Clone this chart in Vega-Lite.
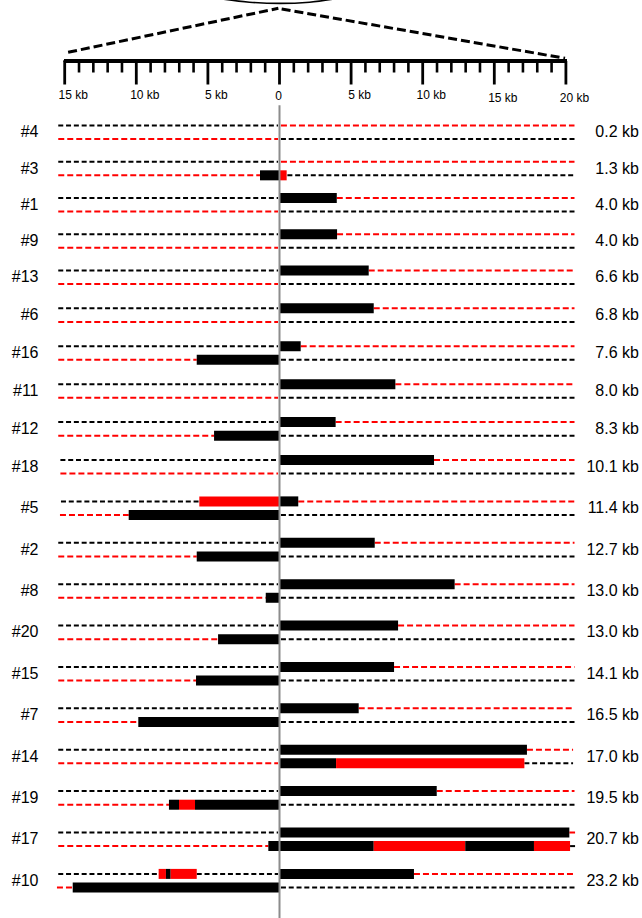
{
  "$schema": "https://vega.github.io/schema/vega-lite/v6.json",
  "width": 642,
  "height": 918,
  "autosize": "none",
  "padding": 0,
  "background": "white",
  "config": {"view": {"stroke": null}, "text": {"font": "Liberation Sans"}},
  "datasets": {
    "ticks": [
      {"kb": -15, "tick": "major", "label": "15 kb"}, {"kb": -14, "tick": "minor"}, {"kb": -13, "tick": "minor"}, {"kb": -12, "tick": "minor"}, {"kb": -11, "tick": "minor"},
      {"kb": -10, "tick": "major", "label": "10 kb"}, {"kb": -9, "tick": "minor"}, {"kb": -8, "tick": "minor"}, {"kb": -7, "tick": "minor"}, {"kb": -6, "tick": "minor"},
      {"kb": -5, "tick": "major", "label": "5 kb"}, {"kb": -4, "tick": "minor"}, {"kb": -3, "tick": "minor"}, {"kb": -2, "tick": "minor"}, {"kb": -1, "tick": "minor"},
      {"kb": 0, "tick": "major", "label": "0"}, {"kb": 1, "tick": "minor"}, {"kb": 2, "tick": "minor"}, {"kb": 3, "tick": "minor"}, {"kb": 4, "tick": "minor"},
      {"kb": 5, "tick": "major", "label": "5 kb"}, {"kb": 6, "tick": "minor"}, {"kb": 7, "tick": "minor"}, {"kb": 8, "tick": "minor"}, {"kb": 9, "tick": "minor"},
      {"kb": 10, "tick": "major", "label": "10 kb"}, {"kb": 11, "tick": "minor"}, {"kb": 12, "tick": "minor"}, {"kb": 13, "tick": "minor"}, {"kb": 14, "tick": "minor"},
      {"kb": 15, "tick": "major", "label": "15 kb"}, {"kb": 16, "tick": "minor"}, {"kb": 17, "tick": "minor"}, {"kb": 18, "tick": "minor"}, {"kb": 19, "tick": "minor"},
      {"kb": 20, "tick": "major", "label": "20 kb"}
    ],
    "zoomlines": [
      {"side": "left", "kb": -14.76, "level": 52.3},
      {"side": "left", "kb": -0.08, "level": 8.3},
      {"side": "right", "kb": 0.15, "level": 9},
      {"side": "right", "kb": 19.94, "level": 58.3}
    ],
    "arc": [
      {"kb": -4.0, "level": -1},
      {"kb": -2.1, "level": 2.2},
      {"kb": 0.03, "level": 3.4},
      {"kb": 2.1, "level": 2.2},
      {"kb": 3.8, "level": -1}
    ],
    "clones": [
      {"row": 0, "clone": "#4", "length": "0.2 kb"},
      {"row": 1, "clone": "#3", "length": "1.3 kb"},
      {"row": 2, "clone": "#1", "length": "4.0 kb"},
      {"row": 3, "clone": "#9", "length": "4.0 kb"},
      {"row": 4, "clone": "#13", "length": "6.6 kb"},
      {"row": 5, "clone": "#6", "length": "6.8 kb"},
      {"row": 6, "clone": "#16", "length": "7.6 kb"},
      {"row": 7, "clone": "#11", "length": "8.0 kb"},
      {"row": 8, "clone": "#12", "length": "8.3 kb"},
      {"row": 9, "clone": "#18", "length": "10.1 kb"},
      {"row": 10, "clone": "#5", "length": "11.4 kb"},
      {"row": 11, "clone": "#2", "length": "12.7 kb"},
      {"row": 12, "clone": "#8", "length": "13.0 kb"},
      {"row": 13, "clone": "#20", "length": "13.0 kb"},
      {"row": 14, "clone": "#15", "length": "14.1 kb"},
      {"row": 15, "clone": "#7", "length": "16.5 kb"},
      {"row": 16, "clone": "#14", "length": "17.0 kb"},
      {"row": 17, "clone": "#19", "length": "19.5 kb"},
      {"row": 18, "clone": "#17", "length": "20.7 kb"},
      {"row": 19, "clone": "#10", "length": "23.2 kb"}
    ],
    "segments": [
      {"row": 0, "strand": "top", "start": -15.45, "end": -0.1, "homolog": "A", "type": "flank"},
      {"row": 0, "strand": "top", "start": 0.1, "end": 20.6, "homolog": "B", "type": "flank"},
      {"row": 0, "strand": "bottom", "start": -15.45, "end": -0.1, "homolog": "B", "type": "flank"},
      {"row": 0, "strand": "bottom", "start": 0.1, "end": 20.6, "homolog": "A", "type": "flank"},

      {"row": 1, "strand": "top", "start": -15.45, "end": -0.1, "homolog": "A", "type": "flank"},
      {"row": 1, "strand": "top", "start": 0.1, "end": 20.6, "homolog": "B", "type": "flank"},
      {"row": 1, "strand": "bottom", "start": -15.45, "end": -1.36, "homolog": "B", "type": "flank"},
      {"row": 1, "strand": "bottom", "start": -1.36, "end": 0, "homolog": "A", "type": "block"},
      {"row": 1, "strand": "bottom", "start": 0, "end": 0.5, "homolog": "B", "type": "block"},
      {"row": 1, "strand": "bottom", "start": 0.55, "end": 20.6, "homolog": "A", "type": "flank"},

      {"row": 2, "strand": "top", "start": -15.45, "end": -0.1, "homolog": "A", "type": "flank"},
      {"row": 2, "strand": "top", "start": 0, "end": 4.0, "homolog": "A", "type": "block"},
      {"row": 2, "strand": "top", "start": 4.0, "end": 20.6, "homolog": "B", "type": "flank"},
      {"row": 2, "strand": "bottom", "start": -15.45, "end": -0.1, "homolog": "B", "type": "flank"},
      {"row": 2, "strand": "bottom", "start": 0.1, "end": 20.6, "homolog": "A", "type": "flank"},

      {"row": 3, "strand": "top", "start": -15.45, "end": -0.1, "homolog": "A", "type": "flank"},
      {"row": 3, "strand": "top", "start": 0, "end": 4.02, "homolog": "A", "type": "block"},
      {"row": 3, "strand": "top", "start": 4.02, "end": 20.6, "homolog": "B", "type": "flank"},
      {"row": 3, "strand": "bottom", "start": -15.45, "end": -0.1, "homolog": "B", "type": "flank"},
      {"row": 3, "strand": "bottom", "start": 0.1, "end": 20.6, "homolog": "A", "type": "flank"},

      {"row": 4, "strand": "top", "start": -15.45, "end": -0.1, "homolog": "A", "type": "flank"},
      {"row": 4, "strand": "top", "start": 0, "end": 6.23, "homolog": "A", "type": "block"},
      {"row": 4, "strand": "top", "start": 6.23, "end": 20.6, "homolog": "B", "type": "flank"},
      {"row": 4, "strand": "bottom", "start": -15.45, "end": -0.1, "homolog": "B", "type": "flank"},
      {"row": 4, "strand": "bottom", "start": 0.1, "end": 20.6, "homolog": "A", "type": "flank"},

      {"row": 5, "strand": "top", "start": -15.45, "end": -0.1, "homolog": "A", "type": "flank"},
      {"row": 5, "strand": "top", "start": 0, "end": 6.58, "homolog": "A", "type": "block"},
      {"row": 5, "strand": "top", "start": 6.58, "end": 20.6, "homolog": "B", "type": "flank"},
      {"row": 5, "strand": "bottom", "start": -15.45, "end": -0.1, "homolog": "B", "type": "flank"},
      {"row": 5, "strand": "bottom", "start": 0.1, "end": 20.6, "homolog": "A", "type": "flank"},

      {"row": 6, "strand": "top", "start": -15.45, "end": -0.1, "homolog": "A", "type": "flank"},
      {"row": 6, "strand": "top", "start": 0, "end": 1.48, "homolog": "A", "type": "block"},
      {"row": 6, "strand": "top", "start": 1.48, "end": 20.6, "homolog": "B", "type": "flank"},
      {"row": 6, "strand": "bottom", "start": -15.45, "end": -5.78, "homolog": "B", "type": "flank"},
      {"row": 6, "strand": "bottom", "start": -5.78, "end": 0, "homolog": "A", "type": "block"},
      {"row": 6, "strand": "bottom", "start": 0.1, "end": 20.6, "homolog": "A", "type": "flank"},

      {"row": 7, "strand": "top", "start": -15.45, "end": -0.1, "homolog": "A", "type": "flank"},
      {"row": 7, "strand": "top", "start": 0, "end": 8.09, "homolog": "A", "type": "block"},
      {"row": 7, "strand": "top", "start": 8.09, "end": 20.6, "homolog": "B", "type": "flank"},
      {"row": 7, "strand": "bottom", "start": -15.45, "end": -0.1, "homolog": "B", "type": "flank"},
      {"row": 7, "strand": "bottom", "start": 0.1, "end": 20.6, "homolog": "A", "type": "flank"},

      {"row": 8, "strand": "top", "start": -15.45, "end": -0.1, "homolog": "A", "type": "flank"},
      {"row": 8, "strand": "top", "start": 0, "end": 3.92, "homolog": "A", "type": "block"},
      {"row": 8, "strand": "top", "start": 3.92, "end": 20.6, "homolog": "B", "type": "flank"},
      {"row": 8, "strand": "bottom", "start": -15.45, "end": -4.57, "homolog": "B", "type": "flank"},
      {"row": 8, "strand": "bottom", "start": -4.57, "end": 0, "homolog": "A", "type": "block"},
      {"row": 8, "strand": "bottom", "start": 0.1, "end": 20.6, "homolog": "A", "type": "flank"},

      {"row": 9, "strand": "top", "start": -15.3, "end": -0.1, "homolog": "A", "type": "flank"},
      {"row": 9, "strand": "top", "start": 0, "end": 10.79, "homolog": "A", "type": "block"},
      {"row": 9, "strand": "top", "start": 10.79, "end": 20.6, "homolog": "B", "type": "flank"},
      {"row": 9, "strand": "bottom", "start": -15.3, "end": -0.1, "homolog": "B", "type": "flank"},
      {"row": 9, "strand": "bottom", "start": 0.1, "end": 20.6, "homolog": "A", "type": "flank"},

      {"row": 10, "strand": "top", "start": -15.26, "end": -5.6, "homolog": "A", "type": "flank"},
      {"row": 10, "strand": "top", "start": -5.6, "end": 0, "homolog": "B", "type": "block"},
      {"row": 10, "strand": "top", "start": 0, "end": 1.31, "homolog": "A", "type": "block"},
      {"row": 10, "strand": "top", "start": 1.31, "end": 20.6, "homolog": "B", "type": "flank"},
      {"row": 10, "strand": "bottom", "start": -15.33, "end": -10.53, "homolog": "B", "type": "flank"},
      {"row": 10, "strand": "bottom", "start": -10.53, "end": 0, "homolog": "A", "type": "block"},
      {"row": 10, "strand": "bottom", "start": 0.1, "end": 20.6, "homolog": "A", "type": "flank"},

      {"row": 11, "strand": "top", "start": -15.45, "end": -0.1, "homolog": "A", "type": "flank"},
      {"row": 11, "strand": "top", "start": 0, "end": 6.65, "homolog": "A", "type": "block"},
      {"row": 11, "strand": "top", "start": 6.65, "end": 20.6, "homolog": "B", "type": "flank"},
      {"row": 11, "strand": "bottom", "start": -15.45, "end": -5.78, "homolog": "B", "type": "flank"},
      {"row": 11, "strand": "bottom", "start": -5.78, "end": 0, "homolog": "A", "type": "block"},
      {"row": 11, "strand": "bottom", "start": 0.1, "end": 20.6, "homolog": "A", "type": "flank"},

      {"row": 12, "strand": "top", "start": -15.45, "end": -0.1, "homolog": "A", "type": "flank"},
      {"row": 12, "strand": "top", "start": 0, "end": 12.23, "homolog": "A", "type": "block"},
      {"row": 12, "strand": "top", "start": 12.23, "end": 20.6, "homolog": "B", "type": "flank"},
      {"row": 12, "strand": "bottom", "start": -15.45, "end": -0.96, "homolog": "B", "type": "flank"},
      {"row": 12, "strand": "bottom", "start": -0.96, "end": 0, "homolog": "A", "type": "block"},
      {"row": 12, "strand": "bottom", "start": 0.1, "end": 20.6, "homolog": "A", "type": "flank"},

      {"row": 13, "strand": "top", "start": -15.45, "end": -0.1, "homolog": "A", "type": "flank"},
      {"row": 13, "strand": "top", "start": 0, "end": 8.28, "homolog": "A", "type": "block"},
      {"row": 13, "strand": "top", "start": 8.28, "end": 20.6, "homolog": "B", "type": "flank"},
      {"row": 13, "strand": "bottom", "start": -15.45, "end": -4.29, "homolog": "B", "type": "flank"},
      {"row": 13, "strand": "bottom", "start": -4.29, "end": 0, "homolog": "A", "type": "block"},
      {"row": 13, "strand": "bottom", "start": 0.1, "end": 20.6, "homolog": "A", "type": "flank"},

      {"row": 14, "strand": "top", "start": -15.45, "end": -0.1, "homolog": "A", "type": "flank"},
      {"row": 14, "strand": "top", "start": 0, "end": 8.0, "homolog": "A", "type": "block"},
      {"row": 14, "strand": "top", "start": 8.0, "end": 20.6, "homolog": "B", "type": "flank"},
      {"row": 14, "strand": "bottom", "start": -15.45, "end": -5.83, "homolog": "B", "type": "flank"},
      {"row": 14, "strand": "bottom", "start": -5.83, "end": 0, "homolog": "A", "type": "block"},
      {"row": 14, "strand": "bottom", "start": 0.1, "end": 20.6, "homolog": "A", "type": "flank"},

      {"row": 15, "strand": "top", "start": -15.45, "end": -0.1, "homolog": "A", "type": "flank"},
      {"row": 15, "strand": "top", "start": 0, "end": 5.53, "homolog": "A", "type": "block"},
      {"row": 15, "strand": "top", "start": 5.53, "end": 20.6, "homolog": "B", "type": "flank"},
      {"row": 15, "strand": "bottom", "start": -15.45, "end": -9.86, "homolog": "B", "type": "flank"},
      {"row": 15, "strand": "bottom", "start": -9.86, "end": 0, "homolog": "A", "type": "block"},
      {"row": 15, "strand": "bottom", "start": 0.1, "end": 20.6, "homolog": "A", "type": "flank"},

      {"row": 16, "strand": "top", "start": -15.45, "end": -0.1, "homolog": "A", "type": "flank"},
      {"row": 16, "strand": "top", "start": 0, "end": 17.28, "homolog": "A", "type": "block"},
      {"row": 16, "strand": "top", "start": 17.28, "end": 20.5, "homolog": "B", "type": "flank"},
      {"row": 16, "strand": "bottom", "start": -15.45, "end": -0.1, "homolog": "B", "type": "flank"},
      {"row": 16, "strand": "bottom", "start": 0, "end": 3.95, "homolog": "A", "type": "block"},
      {"row": 16, "strand": "bottom", "start": 3.95, "end": 17.1, "homolog": "B", "type": "block"},
      {"row": 16, "strand": "bottom", "start": 17.1, "end": 20.5, "homolog": "A", "type": "flank"},

      {"row": 17, "strand": "top", "start": -15.45, "end": -0.1, "homolog": "A", "type": "flank"},
      {"row": 17, "strand": "top", "start": 0, "end": 10.98, "homolog": "A", "type": "block"},
      {"row": 17, "strand": "top", "start": 10.98, "end": 20.6, "homolog": "B", "type": "flank"},
      {"row": 17, "strand": "bottom", "start": -15.45, "end": -7.72, "homolog": "B", "type": "flank"},
      {"row": 17, "strand": "bottom", "start": -7.72, "end": -7.02, "homolog": "A", "type": "block"},
      {"row": 17, "strand": "bottom", "start": -7.02, "end": -5.9, "homolog": "B", "type": "block"},
      {"row": 17, "strand": "bottom", "start": -5.9, "end": 0, "homolog": "A", "type": "block"},
      {"row": 17, "strand": "bottom", "start": 0.1, "end": 20.6, "homolog": "A", "type": "flank"},

      {"row": 18, "strand": "top", "start": -15.45, "end": -0.1, "homolog": "A", "type": "flank"},
      {"row": 18, "strand": "top", "start": 0, "end": 20.24, "homolog": "A", "type": "block"},
      {"row": 18, "strand": "top", "start": 20.24, "end": 20.64, "homolog": "B", "type": "flank"},
      {"row": 18, "strand": "bottom", "start": -15.45, "end": -0.78, "homolog": "B", "type": "flank"},
      {"row": 18, "strand": "bottom", "start": -0.78, "end": 6.58, "homolog": "A", "type": "block"},
      {"row": 18, "strand": "bottom", "start": 6.58, "end": 12.97, "homolog": "B", "type": "block"},
      {"row": 18, "strand": "bottom", "start": 12.97, "end": 17.77, "homolog": "A", "type": "block"},
      {"row": 18, "strand": "bottom", "start": 17.77, "end": 20.29, "homolog": "B", "type": "block"},
      {"row": 18, "strand": "bottom", "start": 20.29, "end": 20.64, "homolog": "A", "type": "flank"},

      {"row": 19, "strand": "top", "start": -15.45, "end": -8.44, "homolog": "A", "type": "flank"},
      {"row": 19, "strand": "top", "start": -8.44, "end": -7.93, "homolog": "B", "type": "block"},
      {"row": 19, "strand": "top", "start": -7.93, "end": -7.6, "homolog": "A", "type": "block"},
      {"row": 19, "strand": "top", "start": -7.6, "end": -5.78, "homolog": "B", "type": "block"},
      {"row": 19, "strand": "top", "start": -5.78, "end": -0.1, "homolog": "A", "type": "flank"},
      {"row": 19, "strand": "top", "start": 0, "end": 9.39, "homolog": "A", "type": "block"},
      {"row": 19, "strand": "top", "start": 9.39, "end": 20.6, "homolog": "B", "type": "flank"},
      {"row": 19, "strand": "bottom", "start": -15.54, "end": -14.44, "homolog": "B", "type": "flank"},
      {"row": 19, "strand": "bottom", "start": -14.44, "end": 0, "homolog": "A", "type": "block"},
      {"row": 19, "strand": "bottom", "start": 0.1, "end": 20.6, "homolog": "A", "type": "flank"}
    ]
  },
  "resolve": {"scale": {"y": "independent"}},
  "layer": [
    {
      "layer": [
        {
          "data": {"name": "arc"},
          "mark": {"type": "line", "color": "#000000", "strokeWidth": 1.6, "interpolate": "monotone", "clip": true},
          "encoding": {
            "x": {"field": "kb", "type": "quantitative", "scale": {"domain": [-19.518, 25.314], "nice": false, "zero": false}, "axis": null},
            "y": {"field": "level", "type": "quantitative", "scale": {"domain": [0, 918], "range": [0, 918], "nice": false, "zero": false}, "axis": null}
          }
        },
        {
          "data": {"name": "zoomlines"},
          "mark": {"type": "line", "color": "#000000", "strokeWidth": 3, "strokeDash": [9, 4]},
          "encoding": {
            "x": {"field": "kb", "type": "quantitative", "scale": {"domain": [-19.518, 25.314], "nice": false, "zero": false}, "axis": null},
            "y": {"field": "level", "type": "quantitative", "scale": {"domain": [0, 918], "range": [0, 918], "nice": false, "zero": false}, "axis": null},
            "detail": {"field": "side", "type": "nominal"}
          }
        },
        {
          "data": {"name": "ticks"},
          "mark": {"type": "rule", "color": "#000000", "strokeWidth": 3},
          "encoding": {
            "x": {"datum": -15.05, "type": "quantitative", "scale": {"domain": [-19.518, 25.314], "nice": false, "zero": false}, "axis": null},
            "x2": {"datum": 20.05},
            "y": {"datum": 61, "type": "quantitative", "scale": {"domain": [0, 918], "range": [0, 918], "nice": false, "zero": false}, "axis": null}
          }
        },
        {
          "data": {"name": "ticks"},
          "transform": [{"filter": "datum.tick == 'minor'"}],
          "mark": {"type": "rule", "color": "#000000", "strokeWidth": 2.6},
          "encoding": {
            "x": {"field": "kb", "type": "quantitative", "scale": {"domain": [-19.518, 25.314], "nice": false, "zero": false}, "axis": null},
            "y": {"datum": 61, "type": "quantitative", "scale": {"domain": [0, 918], "range": [0, 918], "nice": false, "zero": false}, "axis": null},
            "y2": {"datum": 72.5}
          }
        },
        {
          "data": {"name": "ticks"},
          "transform": [{"filter": "datum.tick == 'major'"}],
          "mark": {"type": "rule", "color": "#000000", "strokeWidth": 2.8},
          "encoding": {
            "x": {"field": "kb", "type": "quantitative", "scale": {"domain": [-19.518, 25.314], "nice": false, "zero": false}, "axis": null},
            "y": {"datum": 61, "type": "quantitative", "scale": {"domain": [0, 918], "range": [0, 918], "nice": false, "zero": false}, "axis": null},
            "y2": {"datum": 84.5}
          }
        },
        {
          "data": {"name": "ticks"},
          "transform": [{"filter": "datum.tick == 'major' && datum.kb != 0 && datum.kb < 15"}],
          "mark": {"type": "text", "fontSize": 12, "color": "#000000", "align": "center", "baseline": "middle", "dx": 8.5},
          "encoding": {
            "x": {"field": "kb", "type": "quantitative", "scale": {"domain": [-19.518, 25.314], "nice": false, "zero": false}, "axis": null},
            "y": {"datum": 95.3, "type": "quantitative", "scale": {"domain": [0, 918], "range": [0, 918], "nice": false, "zero": false}, "axis": null},
            "text": {"field": "label", "type": "nominal"}
          }
        },
        {
          "data": {"name": "ticks"},
          "transform": [{"filter": "datum.tick == 'major' && datum.kb >= 15"}],
          "mark": {"type": "text", "fontSize": 12, "color": "#000000", "align": "center", "baseline": "middle", "dx": 8.5},
          "encoding": {
            "x": {"field": "kb", "type": "quantitative", "scale": {"domain": [-19.518, 25.314], "nice": false, "zero": false}, "axis": null},
            "y": {"datum": 97.5, "type": "quantitative", "scale": {"domain": [0, 918], "range": [0, 918], "nice": false, "zero": false}, "axis": null},
            "text": {"field": "label", "type": "nominal"}
          }
        },
        {
          "data": {"name": "ticks"},
          "transform": [{"filter": "datum.kb == 0"}],
          "mark": {"type": "text", "fontSize": 12, "color": "#000000", "align": "center", "baseline": "middle", "dx": -1},
          "encoding": {
            "x": {"field": "kb", "type": "quantitative", "scale": {"domain": [-19.518, 25.314], "nice": false, "zero": false}, "axis": null},
            "y": {"datum": 96, "type": "quantitative", "scale": {"domain": [0, 918], "range": [0, 918], "nice": false, "zero": false}, "axis": null},
            "text": {"field": "label", "type": "nominal"}
          }
        }
      ]
    },
    {
      "layer": [
        {
          "data": {"name": "segments"},
          "transform": [{"filter": "datum.type == 'flank' && datum.strand == 'top'"}],
          "mark": {"type": "rule", "strokeWidth": 2, "strokeCap": "butt", "yOffset": -6.8},
          "encoding": {
            "x": {"field": "start", "type": "quantitative", "scale": {"domain": [-19.518, 25.314], "nice": false, "zero": false}, "axis": null},
            "x2": {"field": "end"},
            "y": {"field": "row", "type": "quantitative", "scale": {"domain": [0, 4, 9, 19], "range": [132.3, 277.2, 466.8, 880.7], "nice": false, "zero": false}, "axis": null},
            "color": {"field": "homolog", "type": "nominal", "scale": {"domain": ["A", "B"], "range": ["#000000", "#ff0000"]}, "legend": null},
            "strokeDash": {"field": "homolog", "type": "nominal", "scale": {"domain": ["A", "B"], "range": [[5, 2.8], [6, 3]]}, "legend": null}
          }
        },
        {
          "data": {"name": "segments"},
          "transform": [{"filter": "datum.type == 'flank' && datum.strand == 'bottom'"}],
          "mark": {"type": "rule", "strokeWidth": 2, "strokeCap": "butt", "yOffset": 6.8},
          "encoding": {
            "x": {"field": "start", "type": "quantitative", "scale": {"domain": [-19.518, 25.314], "nice": false, "zero": false}, "axis": null},
            "x2": {"field": "end"},
            "y": {"field": "row", "type": "quantitative", "scale": {"domain": [0, 4, 9, 19], "range": [132.3, 277.2, 466.8, 880.7], "nice": false, "zero": false}, "axis": null},
            "color": {"field": "homolog", "type": "nominal", "scale": {"domain": ["A", "B"], "range": ["#000000", "#ff0000"]}, "legend": null},
            "strokeDash": {"field": "homolog", "type": "nominal", "scale": {"domain": ["A", "B"], "range": [[5, 2.8], [6, 3]]}, "legend": null}
          }
        },
        {
          "data": {"name": "segments"},
          "transform": [{"filter": "datum.type == 'block' && datum.strand == 'top'"}],
          "mark": {"type": "rule", "strokeWidth": 10, "strokeCap": "butt", "yOffset": -6.8},
          "encoding": {
            "x": {"field": "start", "type": "quantitative", "scale": {"domain": [-19.518, 25.314], "nice": false, "zero": false}, "axis": null},
            "x2": {"field": "end"},
            "y": {"field": "row", "type": "quantitative", "scale": {"domain": [0, 4, 9, 19], "range": [132.3, 277.2, 466.8, 880.7], "nice": false, "zero": false}, "axis": null},
            "color": {"field": "homolog", "type": "nominal", "scale": {"domain": ["A", "B"], "range": ["#000000", "#ff0000"]}, "legend": null}
          }
        },
        {
          "data": {"name": "segments"},
          "transform": [{"filter": "datum.type == 'block' && datum.strand == 'bottom'"}],
          "mark": {"type": "rule", "strokeWidth": 10, "strokeCap": "butt", "yOffset": 6.8},
          "encoding": {
            "x": {"field": "start", "type": "quantitative", "scale": {"domain": [-19.518, 25.314], "nice": false, "zero": false}, "axis": null},
            "x2": {"field": "end"},
            "y": {"field": "row", "type": "quantitative", "scale": {"domain": [0, 4, 9, 19], "range": [132.3, 277.2, 466.8, 880.7], "nice": false, "zero": false}, "axis": null},
            "color": {"field": "homolog", "type": "nominal", "scale": {"domain": ["A", "B"], "range": ["#000000", "#ff0000"]}, "legend": null}
          }
        },
        {
          "data": {"name": "clones"},
          "mark": {"type": "text", "fontSize": 16, "color": "#000000", "align": "right", "baseline": "middle"},
          "encoding": {
            "x": {"datum": -16.83, "type": "quantitative", "scale": {"domain": [-19.518, 25.314], "nice": false, "zero": false}, "axis": null},
            "y": {"field": "row", "type": "quantitative", "scale": {"domain": [0, 4, 9, 19], "range": [132.3, 277.2, 466.8, 880.7], "nice": false, "zero": false}, "axis": null},
            "text": {"field": "clone", "type": "nominal"}
          }
        },
        {
          "data": {"name": "clones"},
          "mark": {"type": "text", "fontSize": 16, "color": "#000000", "align": "right", "baseline": "middle"},
          "encoding": {
            "x": {"datum": 25.1, "type": "quantitative", "scale": {"domain": [-19.518, 25.314], "nice": false, "zero": false}, "axis": null},
            "y": {"field": "row", "type": "quantitative", "scale": {"domain": [0, 4, 9, 19], "range": [132.3, 277.2, 466.8, 880.7], "nice": false, "zero": false}, "axis": null},
            "text": {"field": "length", "type": "nominal"}
          }
        },
        {
          "data": {"values": [{"from": -0.75, "to": 19.95}]},
          "mark": {"type": "rule", "color": "#8c8c8c", "strokeWidth": 2},
          "encoding": {
            "x": {"datum": 0, "type": "quantitative", "scale": {"domain": [-19.518, 25.314], "nice": false, "zero": false}, "axis": null},
            "y": {"field": "from", "type": "quantitative", "scale": {"domain": [0, 4, 9, 19], "range": [132.3, 277.2, 466.8, 880.7], "nice": false, "zero": false}, "axis": null},
            "y2": {"field": "to"}
          }
        }
      ]
    }
  ]
}
